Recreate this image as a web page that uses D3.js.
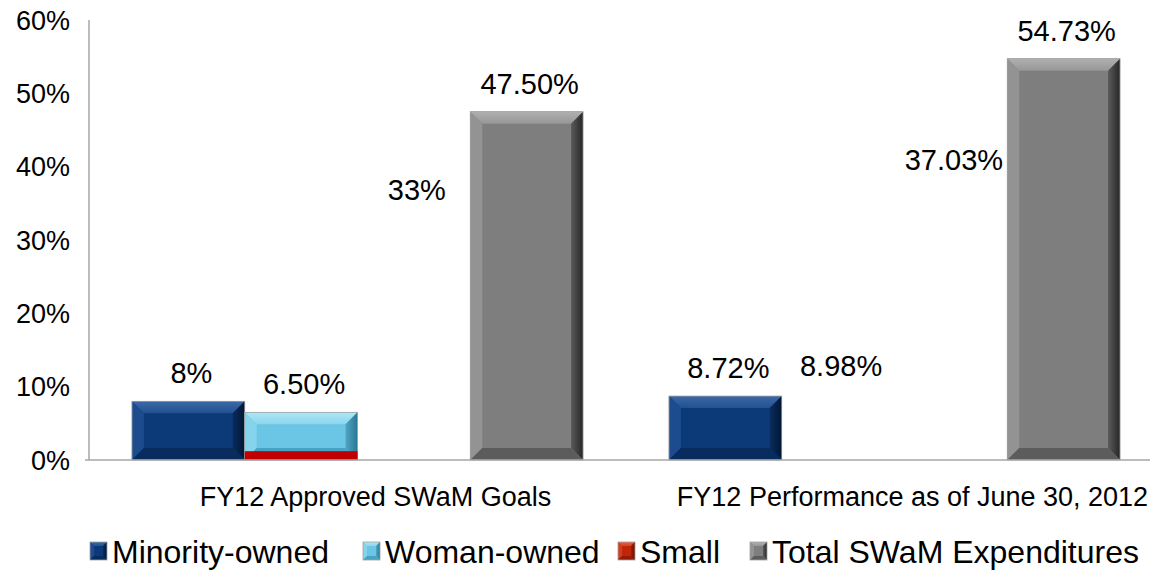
<!DOCTYPE html>
<html>
<head>
<meta charset="utf-8">
<script src="https://cdn.jsdelivr.net/npm/d3@7"></script>
<style>
  body { margin: 0; background: #fff; }
  svg text { font-family: "Liberation Sans", Arial, sans-serif; fill: #000; }
</style>
</head>
<body>
<div id="vis"></div>
<script>
// Data
var categories = ['FY12 Approved SWaM Goals', 'FY12 Performance as of June 30, 2012'];
var seriesNames = ['Minority-owned', 'Woman-owned', 'Small', 'Total SWaM Expenditures'];
var minorityOwned = [8, 8.72];
var womanOwned = [6.5, 8.98];
var small = [33, 37.03];
var totalSwam = [47.5, 54.73];
var valueLabels = [['8%', '8.72%'], ['6.50%', '8.98%'], ['33%', '37.03%'], ['47.50%', '54.73%']];
// which bars the original actually drew (the rest only show their label)
var barShown = [[true, true], [true, false], [false, false], [true, true]];
// stray "Small" sliver drawn inside the Woman-owned slot of the first group
var smallSliver = [1.2, 0];
var yTicks = [0, 10, 20, 30, 40, 50, 60];

var width = 1150;
var height = 570;
var margin = { top: 20, left: 89, bottom: 110, right: -13 };

// bevel colours per series: face, top, left, right, bottom
var palette = [
  { face: '#0c3a78', top: '#3a68a8', left: '#1c4b8e', right: '#021634', bottom: '#082c5e' },
  { face: '#6ac6e4', top: '#aee6f6', left: '#86d4ec', right: '#2a7694', bottom: '#47a3c4' },
  { face: '#c0260a', top: '#e8623a', left: '#d04020', right: '#6a1200', bottom: '#961a04' },
  { face: '#7e7e7e', top: '#b0b0b0', left: '#939393', right: '#262626', bottom: '#5c5c5c' }
];

var seriesValues = [minorityOwned, womanOwned, small, totalSwam];

var svg = d3.select('#vis').append('svg')
  .attr('width', width)
  .attr('height', height);

var defs = svg.append('defs');

// gradients that soften the bevel edges
palette.forEach(function (c, i) {
  var top = defs.append('linearGradient')
    .attr('id', 'top' + i).attr('x1', 0).attr('y1', 0).attr('x2', 0).attr('y2', 1);
  top.append('stop').attr('offset', '0%').attr('stop-color', c.top);
  top.append('stop').attr('offset', '100%').attr('stop-color', d3.interpolateRgb(c.top, c.face)(0.5));
  var right = defs.append('linearGradient')
    .attr('id', 'right' + i).attr('x1', 0).attr('y1', 0).attr('x2', 1).attr('y2', 0);
  right.append('stop').attr('offset', '0%').attr('stop-color', d3.interpolateRgb(c.face, c.right)(0.4));
  right.append('stop').attr('offset', '100%').attr('stop-color', c.right);
  c.topFill = 'url(#top' + i + ')';
  c.rightFill = 'url(#right' + i + ')';
});

var x0 = d3.scaleBand()
  .domain(categories)
  .range([margin.left, width - margin.right])
  .paddingInner(0.16)
  .paddingOuter(0.08);

var x1 = d3.scaleBand()
  .domain(d3.range(seriesNames.length))
  .range([0, x0.bandwidth()]);

var y = d3.scaleLinear()
  .domain([0, 60])
  .range([height - margin.bottom, margin.top]);

// draws a bevelled box like the Excel "cool slant" bar
var bevelBox = function (parent, bx, by, bw, bh, c, b) {
  var g = parent.append('g');
  b = Math.min(b, bw / 2, bh / 2);
  g.append('rect')
    .attr('x', bx).attr('y', by)
    .attr('width', bw).attr('height', bh)
    .attr('fill', c.face);
  var pts = function (arr) { return arr.map(function (p) { return p.join(','); }).join(' '); };
  var x2 = bx + bw, y2 = by + bh;
  g.append('polygon').attr('fill', c.topFill)
    .attr('points', pts([[bx, by], [x2, by], [x2 - b, by + b], [bx + b, by + b]]));
  g.append('polygon').attr('fill', c.left)
    .attr('points', pts([[bx, by], [bx + b, by + b], [bx + b, y2 - b], [bx, y2]]));
  g.append('polygon').attr('fill', c.rightFill)
    .attr('points', pts([[x2, by], [x2, y2], [x2 - b, y2 - b], [x2 - b, by + b]]));
  g.append('polygon').attr('fill', c.bottom)
    .attr('points', pts([[bx, y2], [bx + b, y2 - b], [x2 - b, y2 - b], [x2, y2]]));
  g.append('rect')
    .attr('x', bx).attr('y', by)
    .attr('width', bw).attr('height', bh)
    .attr('fill', 'none')
    .attr('stroke', '#a0a0a0')
    .attr('stroke-width', 0.8);
  return g;
};

// y axis labels (no gridlines in the original)
svg.append('g')
  .selectAll('text')
  .data(yTicks)
  .enter()
  .append('text')
  .attr('x', margin.left - 19)
  .attr('y', function (d) { return y(d); })
  .attr('dy', '0.36em')
  .attr('text-anchor', 'end')
  .style('font-size', '27px')
  .text(function (d) { return d + '%'; });

// bars
categories.forEach(function (cat, ci) {
  seriesValues.forEach(function (vals, si) {
    if (!barShown[si][ci]) return;
    var bx = x0(cat) + x1(si);
    bevelBox(svg, bx, y(vals[ci]), x1.bandwidth(), y(0) - y(vals[ci]), palette[si], 12);
  });
  if (smallSliver[ci] > 0) {
    svg.append('rect')
      .attr('x', x0(cat) + x1(1))
      .attr('y', y(smallSliver[ci]))
      .attr('width', x1.bandwidth())
      .attr('height', y(0) - y(smallSliver[ci]))
      .attr('fill', '#c00000');
  }
});

// value labels
categories.forEach(function (cat, ci) {
  seriesValues.forEach(function (vals, si) {
    svg.append('text')
      .attr('x', x0(cat) + x1(si) + x1.bandwidth() / 2 + 3)
      .attr('y', y(vals[ci]) - 18)
      .attr('text-anchor', 'middle')
      .style('font-size', '29px')
      .text(valueLabels[si][ci]);
  });
});

// axis lines
svg.append('line')
  .attr('x1', margin.left).attr('x2', margin.left)
  .attr('y1', y(60)).attr('y2', y(0))
  .attr('stroke', '#a6a6a6').attr('stroke-width', 1.5);
svg.append('line')
  .attr('x1', margin.left - 4).attr('x2', width)
  .attr('y1', y(0)).attr('y2', y(0))
  .attr('stroke', '#a6a6a6').attr('stroke-width', 1.5);

// category labels
svg.append('g')
  .selectAll('text')
  .data(categories)
  .enter()
  .append('text')
  .attr('x', function (d) { return x0(d) + x0.bandwidth() / 2 + 18; })
  .attr('y', y(0) + 46)
  .attr('text-anchor', 'middle')
  .style('font-size', '27px')
  .text(function (d) { return d; });

// legend
var legendX = [90, 363, 618, 750];
var legend = svg.append('g');
seriesNames.forEach(function (name, i) {
  bevelBox(legend, legendX[i], 542, 17, 18, palette[i], 4);
  legend.append('text')
    .attr('x', legendX[i] + 22)
    .attr('y', 551)
    .attr('dy', '0.36em')
    .style('font-size', '32px')
    .text(name);
});
</script>
</body>
</html>
